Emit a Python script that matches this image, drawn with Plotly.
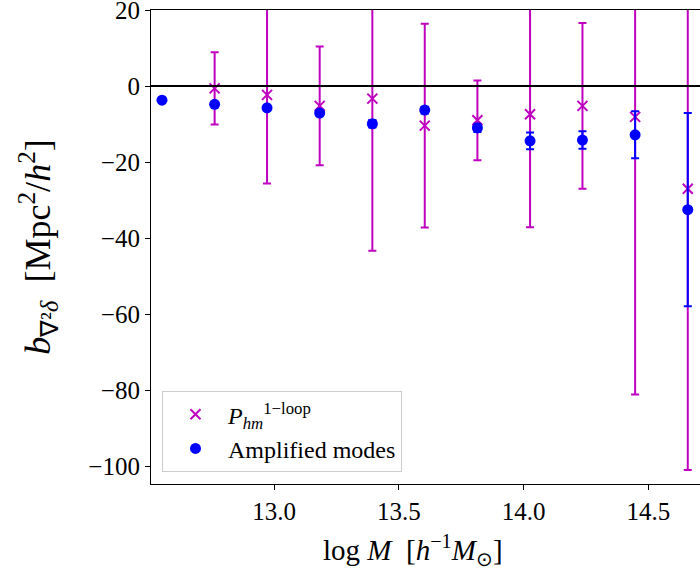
import plotly.graph_objects as go

# Data
logM = [12.551, 12.762, 12.972, 13.183, 13.394, 13.604, 13.815, 14.026, 14.236, 14.447, 14.658]

# Amplified modes
amp_vals = [-3.7, -4.8, -5.7, -7.1, -9.9, -6.3, -11.0, -14.4, -14.2, -12.8, -32.5]
amp_err = [0.4, 0.5, 0.5, 0.7, 1.0, 0.9, 1.1, 2.2, 2.3, 6.2, 25.4]

# P_hm 1-loop (first bin absent)
loop_x = logM[1:]
loop_vals = [-0.6, -2.3, -5.2, -3.3, -10.4, -9.0, -7.4, -5.2, -8.1, -27.0]
loop_err = [9.5, 23.3, 15.6, 40.0, 26.8, 10.5, 29.7, 21.8, 73.0, 74.0]

x_ticks = [13.0, 13.5, 14.0, 14.5]
y_ticks = [20, 0, -20, -40, -60, -80, -100]

MAGENTA = "#BF00BF"
BLUE = "#0000FF"
FONT = "Liberation Serif"

fig = go.Figure()
fig.add_trace(go.Scatter(
    x=loop_x, y=loop_vals, mode="markers",
    name="<i>P</i><sub><i>hm</i></sub><sup>1−loop</sup>",
    marker=dict(symbol="x-thin", size=10, line=dict(color=MAGENTA, width=2), color=MAGENTA),
    error_y=dict(type="data", array=loop_err, color=MAGENTA, thickness=2, width=4),
))
fig.add_trace(go.Scatter(
    x=logM, y=amp_vals, mode="markers",
    name="Amplified modes",
    marker=dict(symbol="circle", size=11, color=BLUE),
    error_y=dict(type="data", array=amp_err, color=BLUE, thickness=2, width=4),
))

fig.add_shape(type="line", xref="paper", x0=0, x1=1, yref="y", y0=0, y1=0,
              line=dict(color="black", width=2), layer="above")

fig.add_annotation(text="log <i>M</i>  [<i>h</i><sup>−1</sup><i>M</i><sub>⊙</sub>]",
                   xref="paper", yref="paper", x=0.477, y=-0.092, xanchor="center", yanchor="top",
                   showarrow=False, font=dict(family=FONT, size=29))

fig.update_layout(
    width=700, height=571,
    margin=dict(l=151, r=0, t=10, b=87, autoexpand=False),
    plot_bgcolor="white", paper_bgcolor="white",
    font=dict(family=FONT, size=25, color="black"),
    showlegend=True,
    legend=dict(x=0.02, y=0.025, xanchor="left", yanchor="bottom",
                bgcolor="rgba(255,255,255,0.8)", bordercolor="#cccccc", borderwidth=1,
                font=dict(family=FONT, size=24), tracegroupgap=0, itemwidth=55),
    xaxis=dict(range=[12.507, 14.707], tickvals=x_ticks, ticktext=[f"{v:.1f}" for v in x_ticks],
               ticks="outside", ticklen=5, tickcolor="black", showline=True, linecolor="black",
               linewidth=1.2, mirror=True, showgrid=False, zeroline=False, automargin=False),
    yaxis=dict(range=[-104.66, 20.02], tickvals=y_ticks, ticktext=[("−" + str(-v)) if v < 0 else str(v) for v in y_ticks],
               ticks="outside", ticklen=5, tickcolor="black", showline=True, linecolor="black",
               linewidth=1.2, showgrid=False, zeroline=False, automargin=False,
               ticklabeloverflow="allow",
               title=dict(text="<i>b</i><sub>∇²<i>δ</i></sub>  [Mpc<sup>2</sup>/<i>h</i><sup>2</sup>]",
                          font=dict(size=36), standoff=26)),
)

fig.write_html("out.html", config={"displayModeBar": False},
               post_script="document.body.style.margin='0px';")
